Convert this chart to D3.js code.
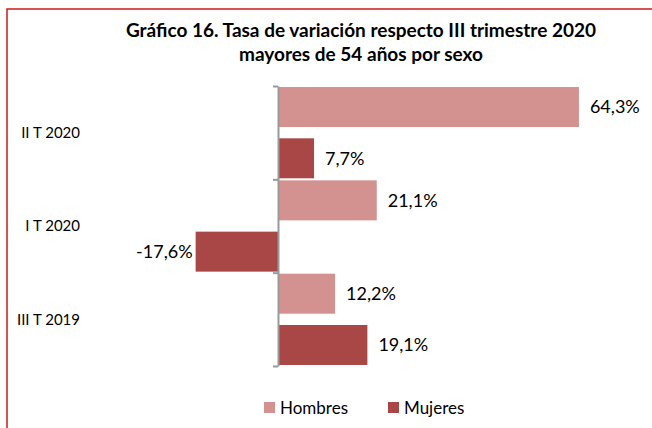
<!DOCTYPE html>
<html>
<head>
<meta charset="utf-8">
<script src="https://cdn.jsdelivr.net/npm/d3@7"></script>
<style>
  body { margin: 0; background: #fff; }
  text { font-family: Lato, "Open Sans", sans-serif; fill: #000; }
</style>
</head>
<body>
<div id="chart"></div>
<script>
// Data
const categories = ["II T 2020", "I T 2020", "III T 2019"];
const series = ["Hombres", "Mujeres"];
const hombres = [64.3, 21.1, 12.2];
const mujeres = [7.7, -17.6, 19.1];
const titleLines = ["Gráfico 16. Tasa de variación respecto III trimestre 2020", "mayores de 54 años por sexo"];

const width = 652, height = 428;
const colors = { Hombres: "#d39190", Mujeres: "#a94646" };

const svg = d3.select("#chart").append("svg")
  .attr("width", width)
  .attr("height", height);

// outer frame (runs off the right and bottom of the picture)
svg.append("rect")
  .attr("x", 7).attr("y", 9)
  .attr("width", 700).attr("height", 500)
  .attr("fill", "none")
  .attr("stroke", "#d01818")
  .attr("stroke-width", 1.5);

// title
svg.selectAll(".title")
  .data(titleLines)
  .enter()
  .append("text")
  .attr("class", "title")
  .attr("x", 361)
  .attr("y", (d, i) => 30 + i * 24)
  .attr("dy", "0.35em")
  .attr("text-anchor", "middle")
  .style("font-weight", "bold")
  .style("font-size", "19px")
  .text(d => d);

// scales
const y0 = 86, y1 = 366, axisX = 278;
const x = d3.scaleLinear().domain([-20, 70]).range([axisX - 20 * 4.68, axisX + 70 * 4.68]);
const y = d3.scaleBand().domain(categories).range([y0, y1]).padding(0);
const ySub = d3.scaleBand().domain(series).range([0, y.bandwidth()])
  .paddingInner(0.22).paddingOuter(0.02);

const rows = categories.map((c, i) => ({ cat: c, Hombres: hombres[i], Mujeres: mujeres[i] }));
const bars = rows.flatMap(r => series.map(s => ({ cat: r.cat, key: s, value: r[s] })));

const fmt = d3.formatLocale({ decimal: ",", thousands: ".", grouping: [3], currency: ["", "€"], minus: "-" }).format(".1f");

svg.selectAll(".bar")
  .data(bars)
  .enter()
  .append("rect")
  .attr("class", "bar")
  .attr("x", d => x(Math.min(0, d.value)))
  .attr("width", d => Math.abs(x(d.value) - x(0)))
  .attr("y", d => y(d.cat) + ySub(d.key))
  .attr("height", ySub.bandwidth())
  .attr("fill", d => colors[d.key]);

svg.selectAll(".lbl")
  .data(bars)
  .enter()
  .append("text")
  .attr("class", "lbl")
  .attr("x", d => d.value >= 0 ? x(d.value) + 11 : x(d.value) - 3)
  .attr("y", d => y(d.cat) + ySub(d.key) + ySub.bandwidth() / 2)
  .attr("dy", "0.35em")
  .attr("text-anchor", d => d.value >= 0 ? "start" : "end")
  .style("font-size", "18px")
  .text(d => fmt(d.value) + "%");

// vertical category axis with ticks on band boundaries
const yEdge = d3.scaleLinear().domain([0, categories.length]).range([y0, y1]);
const axis = svg.append("g")
  .attr("transform", `translate(${axisX},0)`)
  .call(d3.axisLeft(yEdge).tickValues(d3.range(categories.length + 1))
    .tickSize(5).tickSizeOuter(0).tickFormat(""));
axis.selectAll("line, path").attr("stroke", "#9a9a9a").attr("stroke-width", 2);

svg.selectAll(".cat")
  .data(categories)
  .enter()
  .append("text")
  .attr("class", "cat")
  .attr("x", 80)
  .attr("y", d => y(d) + y.bandwidth() / 2)
  .attr("dy", "0.35em")
  .attr("text-anchor", "end")
  .style("font-size", "15px")
  .text(d => d);

// legend
const legend = svg.selectAll(".leg")
  .data(series)
  .enter()
  .append("g")
  .attr("class", "leg")
  .attr("transform", (d, i) => `translate(${264 + i * 124},402)`);
legend.append("rect")
  .attr("width", 11).attr("height", 11)
  .attr("fill", d => colors[d]);
legend.append("text")
  .attr("x", 16).attr("y", 6)
  .attr("dy", "0.35em")
  .style("font-size", "17px")
  .text(d => d);
</script>
</body>
</html>
